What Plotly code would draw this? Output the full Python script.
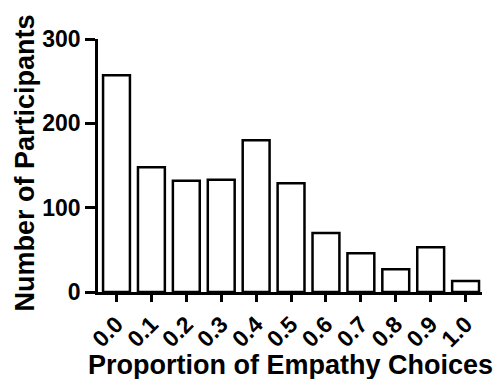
import plotly.graph_objects as go

categories = ["0.0", "0.1", "0.2", "0.3", "0.4", "0.5", "0.6", "0.7", "0.8", "0.9", "1.0"]
participants = [257, 148, 132, 133, 180, 129, 70, 46, 27, 53, 13]
y_ticks = [0, 100, 200, 300]

FONT = "Liberation Sans, Arial, Helvetica, sans-serif"

fig = go.Figure(go.Bar(
    x=list(range(len(categories))),
    y=participants,
    marker=dict(color="white", line=dict(color="black", width=2.5)),
    width=0.77,
))

fig.update_layout(
    width=503, height=379,
    margin=dict(l=98, r=21, t=39, b=87),
    plot_bgcolor="white", paper_bgcolor="white",
    showlegend=False,
    font=dict(family=FONT, color="black", weight="bold"),
)
fig.update_xaxes(
    range=[-0.53, 10.47], automargin=False,
    tickmode="array", tickvals=list(range(len(categories))), ticktext=categories,
    tickangle=-45,
    tickfont=dict(size=23, family=FONT, weight="bold"),
    ticks="outside", ticklen=7, tickwidth=2.5, tickcolor="black",
    showline=True, linecolor="black", linewidth=2.5,
    showgrid=False, zeroline=False,
)
fig.update_yaxes(
    range=[0, 300], automargin=False,
    tickmode="array", tickvals=y_ticks,
    tickfont=dict(size=23, family=FONT, weight="bold"),
    ticks="outside", ticklen=10, tickwidth=2.5, tickcolor="black",
    showline=True, linecolor="black", linewidth=2.5,
    showgrid=False, zeroline=False,
)
fig.add_annotation(
    text="Proportion of Empathy Choices", xref="paper", yref="paper",
    x=0.5, y=0, xanchor="center", yanchor="top", yshift=-56, showarrow=False,
    font=dict(size=27, family=FONT, weight="bold", color="black"),
)
fig.add_annotation(
    text="Number of Participants", xref="paper", yref="paper", textangle=-90,
    x=0, y=0.5, xanchor="center", yanchor="middle", xshift=-74, yshift=2, showarrow=False,
    font=dict(size=27, family=FONT, weight="bold", color="black"),
)

fig.write_html("out.html")
